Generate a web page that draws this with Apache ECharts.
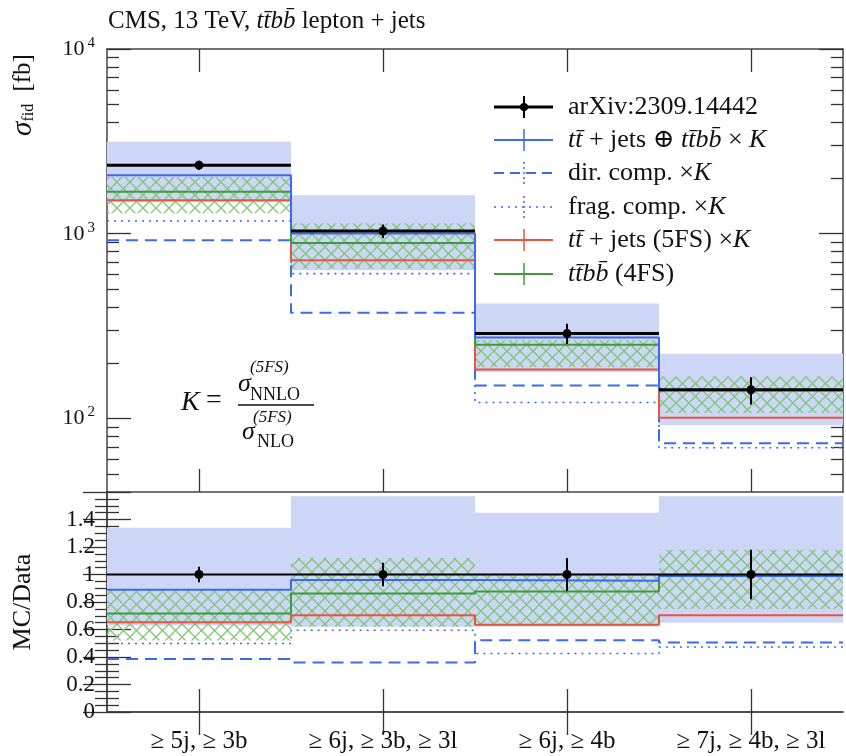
<!DOCTYPE html>
<html>
<head>
<meta charset="utf-8">
<script src="https://cdn.jsdelivr.net/npm/echarts@6/dist/echarts.min.js"></script>
<style>
  html, body { margin: 0; padding: 0; background: #fff; }
  #chart { width: 846px; height: 756px; }
</style>
</head>
<body>
<div id="chart"></div>
<script>
// bins: jet / b-jet / light-jet multiplicity selections
const categories = ['≥ 5j, ≥ 3b', '≥ 6j, ≥ 3b, ≥ 3l', '≥ 6j, ≥ 4b', '≥ 7j, ≥ 4b, ≥ 3l'];

// upper panel, sigma_fid in fb
const dataXs   = [2350, 1035, 288, 143];
const dataLo   = [2215, 947, 253, 119];
const dataHi   = [2485, 1123, 326, 167];
const totalK   = [2075, 1003, 274, 142];   // ttbar+jets (+) ttbb x K
const dirK     = [923, 374, 151, 73.5];    // dir. comp. x K
const fragK    = [1172, 608, 122, 69.4];   // frag. comp. x K
const ttj5fsK  = [1520, 718, 184, 101];    // ttbar + jets (5FS) x K
const ttbb4fs  = [1687, 891, 251, 142];    // ttbb (4FS)
const bandLo   = [1480, 634, 178, 92];
const bandHi   = [3150, 1618, 419, 224];
const hatchLo  = [1290, 648, 190, 107];
const hatchHi  = [2030, 1140, 265, 169];

// lower panel, MC / Data
const ratioData    = [1, 1, 1, 1];
const ratioDataErr = [0.057, 0.085, 0.12, 0.18];
const ratioTotal   = [0.89, 0.96, 0.955, 0.99];
const ratioDir     = [0.385, 0.36, 0.522, 0.505];
const ratioFrag    = [0.498, 0.595, 0.426, 0.473];
const ratio5fs     = [0.653, 0.703, 0.635, 0.703];
const ratio4fs     = [0.716, 0.861, 0.877, 0.993];
const ratioBandLo  = [0.63, 0.62, 0.62, 0.65];
const ratioBandHi  = [1.34, 1.57, 1.45, 1.57];
const ratioHatchLo = [0.52, 0.62, 0.63, 0.75];
const ratioHatchHi = [0.885, 1.12, 1.01, 1.18];

// axis ticks
const binCenters   = [0.5, 1.5, 2.5, 3.5];
const logMajor     = [100, 1000, 10000];
const logMinor     = [50, 60, 70, 80, 90, 200, 300, 400, 500, 600, 700, 800, 900,
                      2000, 3000, 4000, 5000, 6000, 7000, 8000, 9000];

const BLUE = '#3c6ae8', RED = '#e8553d', GREEN = '#3f9a3c', BAND = '#cdd6f6';
const FONT = '"Liberation Serif", "DejaVu Serif", serif';
const AXC = '#444';

function makeHatch() {
  const c = document.createElement('canvas');
  c.width = 13; c.height = 13;
  const g = c.getContext('2d');
  g.strokeStyle = 'rgba(120,198,108,0.9)';
  g.lineWidth = 1.4;
  g.beginPath();
  g.moveTo(-1, -1); g.lineTo(14, 14);
  g.moveTo(14, -1); g.lineTo(-1, 14);
  g.stroke();
  return c;
}
const hatchFill = { image: makeHatch(), repeat: 'repeat' };

// step line through bin edges 0..4
function steps(vals) {
  const pts = vals.map((v, i) => [i, v]);
  pts.push([vals.length, vals[vals.length - 1]]);
  return pts;
}

function boxes(name, lo, hi, fill, xi, yi, z) {
  return {
    type: 'custom', name, xAxisIndex: xi, yAxisIndex: yi, z, silent: true,
    encode: { x: 0, y: [1, 2] },
    data: lo.map((v, i) => [i, v, hi[i]]),
    renderItem(params, api) {
      const i = api.value(0);
      const a = api.coord([i, api.value(2)]);
      const b = api.coord([i + 1, api.value(1)]);
      return { type: 'rect', shape: { x: a[0], y: a[1], width: b[0] - a[0], height: b[1] - a[1] },
               style: { fill } };
    }
  };
}

function stepLine(name, vals, color, type, xi, yi, z, width) {
  return {
    type: 'line', name, xAxisIndex: xi, yAxisIndex: yi, z, step: 'end',
    symbol: 'none', silent: true, animation: false,
    data: steps(vals),
    lineStyle: { color, width: width || 2, type: type || 'solid' }
  };
}

function dataPoints(name, vals, lo, hi, xi, yi, lw) {
  return {
    type: 'custom', name, xAxisIndex: xi, yAxisIndex: yi, z: 10, silent: true,
    encode: { x: 0, y: 1 },
    data: vals.map((v, i) => [i, v, lo[i], hi[i]]),
    renderItem(params, api) {
      const i = api.value(0);
      const l = api.coord([i, api.value(1)]);
      const r = api.coord([i + 1, api.value(1)]);
      const c = api.coord([i + 0.5, api.value(1)]);
      const t = api.coord([i + 0.5, api.value(3)]);
      const b = api.coord([i + 0.5, api.value(2)]);
      return { type: 'group', children: [
        { type: 'line', shape: { x1: l[0], y1: l[1], x2: r[0], y2: r[1] }, style: { stroke: '#000', lineWidth: lw } },
        { type: 'line', shape: { x1: t[0], y1: t[1], x2: b[0], y2: b[1] }, style: { stroke: '#000', lineWidth: 2 } },
        { type: 'circle', shape: { cx: c[0], cy: c[1], r: 4.5 }, style: { fill: '#000' } }
      ] };
    }
  };
}

const chart = echarts.init(document.getElementById('chart'), null, { renderer: 'canvas' });

const xBase = { type: 'value', min: 0, max: 4, splitLine: { show: false },
  axisLine: { show: true, lineStyle: { color: AXC, width: 1.5 } },
  axisTick: { show: true, inside: true, length: 23, customValues: binCenters, lineStyle: { color: '#333', width: 1.3 } },
  axisLabel: { show: false } };

const logBase = { type: 'log', logBase: 10, min: 40, max: 10000, gridIndex: 0, splitLine: { show: false } };

const ratioBase = { type: 'value', min: 0, max: 1.6, interval: 0.2, gridIndex: 1, splitLine: { show: false },
  axisLine: { show: true, lineStyle: { color: AXC, width: 1.5 } },
  axisTick: { show: true, inside: true, length: 24, lineStyle: { color: '#333', width: 1.3 } },
  minorTick: { show: true, splitNumber: 4, length: 12, lineStyle: { color: '#333', width: 1.3 } } };

const legendRows = [107, 140, 173, 207, 240, 274];
const LFS = 26;
const it = { fontFamily: FONT, fontStyle: 'italic', fontSize: LFS };
const legendItems = [
  { text: 'arXiv:2309.14442', color: '#000', dash: 'solid', w: 3, dot: true },
  { text: '{i|tt\u0304} + jets ⊕ {i|tt\u0304bb\u0304} × {i|K}', color: BLUE, dash: 'solid', w: 2 },
  { text: 'dir. comp. ×{i|K}', color: BLUE, dash: [10, 6], w: 2 },
  { text: 'frag. comp. ×{i|K}', color: BLUE, dash: [2, 5], w: 1.6 },
  { text: '{i|tt\u0304} + jets (5FS) ×{i|K}', color: RED, dash: 'solid', w: 2 },
  { text: '{i|tt\u0304bb\u0304} (4FS)', color: GREEN, dash: 'solid', w: 2 }
];

const graphics = [];
legendItems.forEach((li, k) => {
  const y = legendRows[k];
  graphics.push({ type: 'line', shape: { x1: 494, y1: y, x2: 553, y2: y },
    style: { stroke: li.color, lineWidth: li.w, lineDash: li.dash === 'solid' ? null : li.dash } });
  graphics.push({ type: 'line', shape: { x1: 524, y1: y - 11, x2: 524, y2: y + 11 },
    style: { stroke: li.color, lineWidth: li.dot ? 2 : 1.5, lineDash: li.dash === 'solid' ? null : [2, 3] } });
  if (li.dot) graphics.push({ type: 'circle', shape: { cx: 524, cy: y, r: 4 }, style: { fill: '#000' } });
  graphics.push({ type: 'text', x: 568, y: y,
    style: { text: li.text, font: LFS + 'px ' + FONT, fill: '#111', verticalAlign: 'middle', rich: { i: it } } });
});

// title
graphics.push({ type: 'text', x: 108, y: 21, style: {
  text: 'CMS, 13 TeV, {i|tt\u0304bb\u0304} lepton + jets', fill: '#111', verticalAlign: 'middle',
  font: '25px ' + FONT, rich: { i: { fontFamily: FONT, fontStyle: 'italic', fontSize: 25 } } } });

// y-axis titles
graphics.push({ type: 'text', x: 23, y: 95, rotation: Math.PI / 2, style: {
  text: '{s|σ}{sub|fid} [fb]', fill: '#111', align: 'center', verticalAlign: 'middle', font: '25px ' + FONT,
  rich: { s: { fontFamily: FONT, fontStyle: 'italic', fontSize: 29 },
          sub: { fontFamily: FONT, fontSize: 16, padding: [12, 6, 0, 0] } } } });
graphics.push({ type: 'text', x: 23, y: 602, rotation: Math.PI / 2, style: {
  text: 'MC/Data', fill: '#111', align: 'center', verticalAlign: 'middle', font: '26px ' + FONT } });

// K factor formula
const kf = [
  ['K', 181, 403, 'italic', 28], ['=', 206, 401, 'normal', 28],
  ['σ', 238, 384, 'italic', 26], ['(5FS)', 250, 368, 'italic', 17], ['NNLO', 250, 395, 'normal', 18],
  ['σ', 242, 432, 'italic', 26], ['(5FS)', 253, 418, 'italic', 17], ['NLO', 257, 442, 'normal', 18]
];
kf.forEach(([t, x, y, st, fs]) => graphics.push({ type: 'text', x, y,
  style: { text: t, fill: '#111', verticalAlign: 'middle', font: st + ' ' + fs + 'px ' + FONT } }));
graphics.push({ type: 'line', shape: { x1: 238, y1: 405, x2: 314, y2: 405 }, style: { stroke: '#111', lineWidth: 1.4 } });

chart.setOption({
  animation: false,
  backgroundColor: '#fff',
  grid: [
    { left: 107, top: 49, width: 736, height: 443 },
    { left: 107, top: 492, width: 736, height: 220 }
  ],
  xAxis: [
    Object.assign({}, xBase, { gridIndex: 0, position: 'bottom' }),
    Object.assign({}, xBase, { gridIndex: 0, position: 'top' }),
    Object.assign({}, xBase, { gridIndex: 1, position: 'bottom',
      axisLabel: { show: true, customValues: binCenters, margin: 17, color: '#111', fontFamily: FONT, fontSize: 25,
        formatter: v => categories[Math.floor(v)] } }),
    Object.assign({}, xBase, { gridIndex: 1, position: 'top' })
  ],
  yAxis: [
    Object.assign({}, logBase, { position: 'left',
      axisLine: { show: true, lineStyle: { color: AXC, width: 1.5 } },
      axisTick: { show: true, inside: true, length: 24, customValues: logMajor, lineStyle: { color: '#333', width: 1.3 } },
      axisLabel: { show: true, customValues: logMajor, margin: 12, color: '#111',
        formatter: v => '{b|10}{s|' + Math.round(Math.log10(v)) + '}',
        rich: { b: { fontFamily: FONT, fontSize: 22 }, s: { fontFamily: FONT, fontSize: 15, padding: [0, 0, 12, 3] } } } }),
    Object.assign({}, logBase, { position: 'left', axisLine: { show: false },
      axisTick: { show: true, inside: true, length: 12, customValues: logMinor, lineStyle: { color: '#333', width: 1.3 } },
      axisLabel: { show: false } }),
    Object.assign({}, logBase, { position: 'right',
      axisLine: { show: true, lineStyle: { color: AXC, width: 1.5 } },
      axisTick: { show: true, inside: true, length: 24, customValues: logMajor, lineStyle: { color: '#333', width: 1.3 } },
      axisLabel: { show: false } }),
    Object.assign({}, logBase, { position: 'right', axisLine: { show: false },
      axisTick: { show: true, inside: true, length: 12, customValues: logMinor, lineStyle: { color: '#333', width: 1.3 } },
      axisLabel: { show: false } }),
    Object.assign({}, ratioBase, { position: 'left',
      axisLabel: { show: true, margin: 12, color: '#111', fontFamily: FONT, fontSize: 23,
        formatter: v => (v > 1.5 ? '' : String(+v.toFixed(1))) } }),
    Object.assign({}, ratioBase, { position: 'right', axisLabel: { show: false } })
  ],
  series: [
    boxes('band', bandLo, bandHi, BAND, 0, 0, 1),
    boxes('hatch', hatchLo, hatchHi, hatchFill, 0, 0, 2),
    stepLine('frag', fragK, BLUE, [2, 5], 0, 0, 3, 1.6),
    stepLine('dir', dirK, BLUE, [12, 7], 0, 0, 4),
    stepLine('5FS', ttj5fsK, RED, 'solid', 0, 0, 5),
    stepLine('4FS', ttbb4fs, GREEN, 'solid', 0, 0, 6),
    stepLine('total', totalK, BLUE, 'solid', 0, 0, 7),
    dataPoints('data', dataXs, dataLo, dataHi, 0, 0, 3),

    boxes('rband', ratioBandLo, ratioBandHi, BAND, 2, 4, 1),
    boxes('rhatch', ratioHatchLo, ratioHatchHi, hatchFill, 2, 4, 2),
    stepLine('rfrag', ratioFrag, BLUE, [2, 5], 2, 4, 3, 1.6),
    stepLine('rdir', ratioDir, BLUE, [12, 7], 2, 4, 4),
    stepLine('r5FS', ratio5fs, RED, 'solid', 2, 4, 5),
    stepLine('r4FS', ratio4fs, GREEN, 'solid', 2, 4, 6),
    stepLine('rtotal', ratioTotal, BLUE, 'solid', 2, 4, 7),
    dataPoints('rdata', ratioData, ratioData.map((v, i) => v - ratioDataErr[i]),
               ratioData.map((v, i) => v + ratioDataErr[i]), 2, 4, 2)
  ],
  graphic: graphics
});
</script>
</body>
</html>
